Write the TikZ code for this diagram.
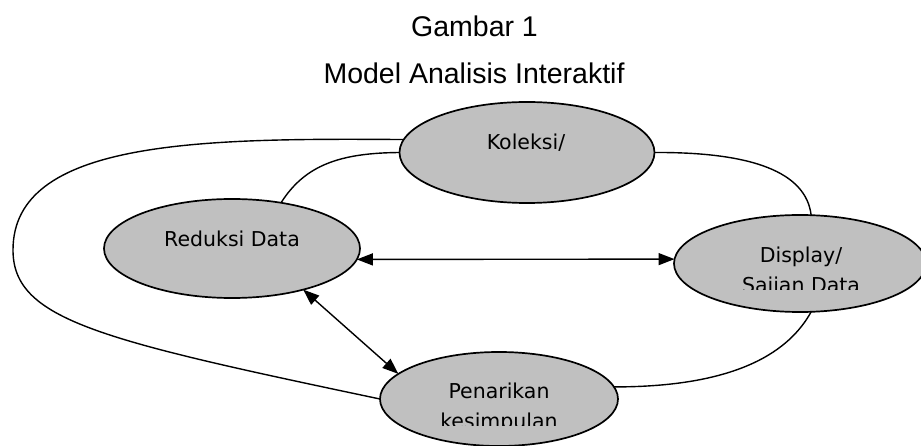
\documentclass[tikz,border=0pt]{standalone}
\usepackage{fontspec}
\setmainfont{DejaVu Sans}
\newfontfamily\titlefont{Liberation Sans}
\usetikzlibrary{shapes.geometric,arrows.meta}
\definecolor{bubblegray}{RGB}{192,192,192}
\begin{document}
\begin{tikzpicture}[x=1pt,y=-1pt,
  bubble/.style={ellipse,draw=black,line width=1.7pt,fill=bubblegray,inner sep=0pt,outer sep=0pt},
  lbl/.style={anchor=base,inner sep=0pt,font=\fontsize{20.5}{24}\selectfont},
  ttl/.style={anchor=base,inner sep=0pt,font=\titlefont\fontsize{28.5}{34}\selectfont},
  conn/.style={line width=1.4pt},
  dbl/.style={line width=1.4pt,{Triangle[length=16pt,width=12pt]}-{Triangle[length=16pt,width=12pt]}}
]
\clip (0,0) rectangle (921,446);
\useasboundingbox (0,0) rectangle (921,446);

% title
\node[ttl] (t1) at (474.5,37) {Gambar 1};
\node[ttl] (t2) at (474,84) {Model Analisis Interaktif};

% ellipses
\node[bubble,minimum width=255pt,minimum height=101pt] (K) at (527,152.5) {};
\node[bubble,minimum width=256pt,minimum height=99pt] (R) at (232,248.5) {};
\node[bubble,minimum width=252pt,minimum height=97pt] (D) at (800,263.5) {};
\node[bubble,minimum width=238pt,minimum height=94pt] (P) at (499,399) {};

% texts
\node[lbl] (Kt) at (526,150) {Koleksi/};
\node[lbl] (Rt) at (232,247) {Reduksi Data};
\node[lbl] (Dt1) at (801,263) {Display/};
\begin{scope}
  \clip (650,270) rectangle (921,290);
  \node[lbl] (Dt2) at (801,293) {Sajian Data};
\end{scope}
\node[lbl] (Pt1) at (499,398) {Penarikan};
\begin{scope}
  \clip (380,405) rectangle (620,425);
  \node[lbl] (Pt2) at (499,428) {kesimpulan};
\end{scope}

% connectors
\draw[conn] (K.174) .. controls (200,138) and (13,140) .. (13,250)
            .. controls (13,320) and (100,340) .. (P.180);
\draw[conn] (K.180) .. controls (340,153) and (305,165) .. (R.43);
\draw[conn] (K.0) .. controls (752,152) and (806,172) .. (D.77);
\draw[conn] (P.6) .. controls (740,387) and (790,350) .. (D.-77);
\draw[dbl] (R.-5) -- (D.178);
\draw[dbl] (R.-30) -- (P.166);
\end{tikzpicture}
\end{document}
